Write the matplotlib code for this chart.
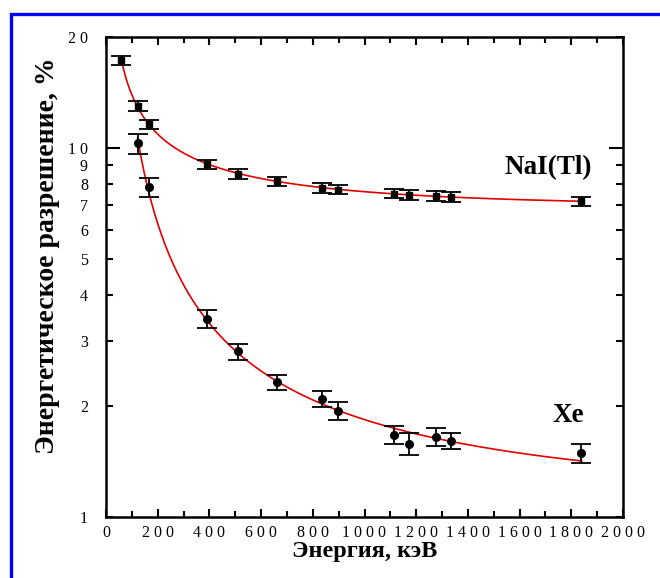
import numpy as np
import matplotlib.pyplot as plt
from matplotlib.patches import Rectangle
from matplotlib.ticker import FixedLocator, NullFormatter

plt.rcParams['font.family'] = ['Liberation Serif', 'DejaVu Serif']

# NaI(Tl) data
e_nai = [59.5, 122, 166, 392, 511, 662, 835, 898, 1115, 1173, 1275, 1333, 1836]
r_nai = [17.3, 13.0, 11.6, 9.05, 8.5, 8.12, 7.8, 7.72, 7.53, 7.47, 7.42, 7.37, 7.17]
err_nai = [0.5, 0.4, 0.35, 0.26, 0.25, 0.24, 0.23, 0.23, 0.22, 0.22, 0.22, 0.22, 0.21]

# Xe data
e_xe = [122, 166, 392, 511, 662, 835, 898, 1115, 1173, 1275, 1333, 1836]
r_xe = [10.3, 7.84, 3.45, 2.81, 2.32, 2.09, 1.94, 1.67, 1.58, 1.65, 1.61, 1.49]
err_xe = [0.65, 0.45, 0.19, 0.14, 0.11, 0.10, 0.11, 0.09, 0.11, 0.09, 0.08, 0.085]

xticks = [0, 200, 400, 600, 800, 1000, 1200, 1400, 1600, 1800, 2000]
yticks = [1, 2, 3, 4, 5, 6, 7, 8, 9, 10, 20]


def fit_curve(e, r, x0, x1):
    p = np.polyfit(np.log(e), np.log(r), 2)
    xs = np.linspace(x0, x1, 300)
    return xs, np.exp(np.polyval(p, np.log(xs)))


fig = plt.figure(figsize=(6.6, 5.78), dpi=100)
fig.patches.append(Rectangle((11 / 660, -0.2), 1.2, 1.2 - 14 / 578,
                             transform=fig.transFigure, fill=False,
                             edgecolor='#0000ff', lw=2.4))
ax = fig.add_axes([106 / 660, 61 / 578, 517 / 660, 480 / 578])

xs, ys = fit_curve(e_nai, r_nai, 59.5, 1840)
ax.plot(xs, ys, color='#e00000', lw=1.2)
xs, ys = fit_curve(e_xe, r_xe, 122, 1840)
ax.plot(xs, ys, color='#e00000', lw=1.2)

ax.errorbar(e_nai, r_nai, yerr=err_nai, fmt='s', color='black', ms=5,
            capsize=7, elinewidth=1.3, capthick=1.3)
ax.errorbar(e_xe, r_xe, yerr=err_xe, fmt='o', color='black', ms=5.5,
            capsize=7, elinewidth=1.3, capthick=1.3)

ax.set_yscale('log')
ax.set_xlim(0, 2000)
ax.set_ylim(1, 20)
ax.set_xticks(xticks)
ax.set_xticklabels([' '.join(str(t)) for t in xticks])
ax.set_xticks(np.arange(100, 2000, 200), minor=True)
ax.yaxis.set_major_locator(FixedLocator(yticks))
ax.set_yticklabels([' '.join(str(t)) if t >= 10 else str(t) for t in yticks])
ax.yaxis.set_minor_formatter(NullFormatter())
ax.yaxis.set_minor_locator(FixedLocator([]))

ax.tick_params(which='both', direction='in', top=True, right=True,
               width=1.5, labelsize=11.5)
ax.tick_params(axis='x', which='major', length=6, pad=6)
ax.tick_params(axis='x', which='minor', length=4)
ax.tick_params(axis='y', which='major', length=5, pad=13)
for t in ax.yaxis.get_major_ticks():
    if t.get_loc() == 10:
        t.tick1line.set_markersize(10)
        t.tick2line.set_markersize(10)
for s in ax.spines.values():
    s.set_linewidth(1.8)

ax.text(1710, 8.85, 'NaI(Tl)', fontsize=19.5, fontweight='bold',
        ha='center', va='center')
ax.text(1787, 1.89, 'Xe', fontsize=19.5, fontweight='bold',
        ha='center', va='center')

fig.text(365 / 660, 1 - 551 / 578, 'Энергия, кэВ', fontsize=17.5,
         fontweight='bold', ha='center', va='center')
fig.text(48 / 660, 1 - 256 / 578, 'Энергетическое разрешение, %',
         fontsize=20, fontweight='bold', ha='center', va='center',
         rotation=90)

fig.savefig('out.png', dpi=100)
